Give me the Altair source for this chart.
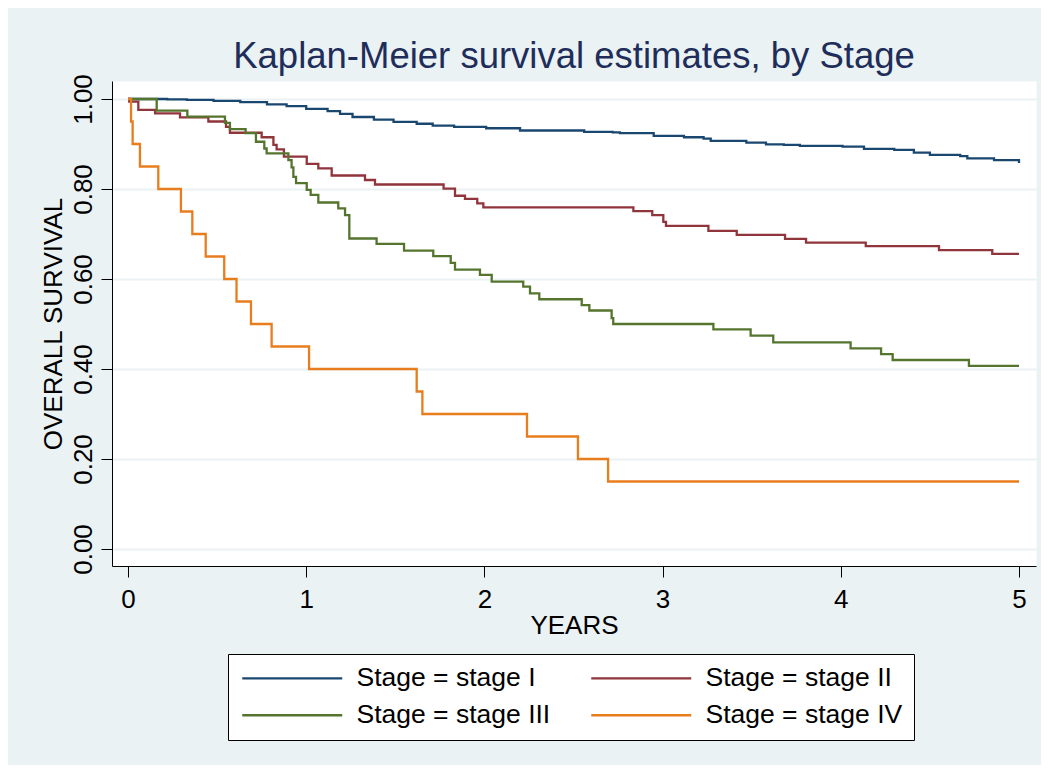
import altair as alt
import pandas as pd

# ---- data (years, survival probability) ----
stages = ["Stage = stage I", "Stage = stage II", "Stage = stage III", "Stage = stage IV"]
colors = ["#1A476F", "#90353B", "#55752F", "#E87D1E"]

stage1_t = [0, 0.22, 0.33, 0.48, 0.63, 0.78, 0.89, 1.00, 1.12, 1.19, 1.26, 1.38, 1.49, 1.62,
            1.71, 1.83, 2.01, 2.20, 2.56, 2.72, 2.76, 2.95, 3.12, 3.23, 3.27, 3.47, 3.58, 3.68,
            3.77, 4.01, 4.13, 4.30, 4.41, 4.50, 4.67, 4.71, 4.86, 5.0]
stage1_s = [1.0, 0.999, 0.998, 0.996, 0.993, 0.988, 0.984, 0.978, 0.973, 0.967, 0.960, 0.954,
            0.949, 0.945, 0.941, 0.938, 0.935, 0.930, 0.927, 0.926, 0.924, 0.918, 0.915, 0.912,
            0.907, 0.903, 0.899, 0.898, 0.896, 0.894, 0.889, 0.887, 0.881, 0.876, 0.873, 0.868,
            0.864, 0.858]

stage2_t = [0, 0.007, 0.058, 0.152, 0.292, 0.451, 0.550, 0.572, 0.750, 0.816, 0.834, 0.875,
            1.003, 1.068, 1.143, 1.330, 1.386, 1.771, 1.835, 1.891, 1.960, 1.994, 2.836, 2.942,
            3.004, 3.019, 3.257, 3.416, 3.687, 3.805, 4.140, 4.551, 4.850, 5.0]
stage2_s = [1.0, 0.994, 0.976, 0.968, 0.959, 0.950, 0.938, 0.925, 0.915, 0.898, 0.888, 0.872,
            0.856, 0.846, 0.830, 0.820, 0.810, 0.801, 0.785, 0.778, 0.768, 0.759, 0.751, 0.742,
            0.727, 0.718, 0.707, 0.698, 0.689, 0.681, 0.673, 0.664, 0.656, 0.656]

stage3_t = [0, 0.161, 0.333, 0.544, 0.572, 0.660, 0.718, 0.765, 0.778, 0.900, 0.918, 0.928,
            0.943, 1.003, 1.025, 1.068, 1.180, 1.218, 1.242, 1.395, 1.549, 1.713, 1.811, 1.835,
            1.975, 2.041, 2.218, 2.256, 2.308, 2.546, 2.589, 2.714, 2.723, 3.285, 3.494, 3.621,
            4.055, 4.226, 4.291, 4.719, 5.0]
stage3_s = [1.0, 0.974, 0.961, 0.947, 0.933, 0.924, 0.905, 0.890, 0.879, 0.864, 0.848, 0.827,
            0.813, 0.798, 0.787, 0.770, 0.757, 0.742, 0.690, 0.678, 0.663, 0.651, 0.636, 0.621,
            0.609, 0.594, 0.583, 0.568, 0.555, 0.542, 0.530, 0.513, 0.500, 0.488, 0.474, 0.459,
            0.446, 0.433, 0.420, 0.407, 0.407]

stage4_t = [0, 0.017, 0.026, 0.067, 0.170, 0.297, 0.361, 0.436, 0.540, 0.609, 0.690, 0.806,
            1.016, 1.620, 1.652, 2.239, 2.525, 2.694, 5.0]
stage4_s = [1.0, 0.95, 0.90, 0.85, 0.80, 0.75, 0.70, 0.65, 0.60, 0.55, 0.50, 0.45, 0.40, 0.35,
            0.30, 0.25, 0.20, 0.15, 0.15]

x_ticks = [0, 1, 2, 3, 4, 5]
y_ticks = [0.0, 0.2, 0.4, 0.6, 0.8, 1.0]

rows = []
for name, ts, ss in zip(stages, [stage1_t, stage2_t, stage3_t, stage4_t],
                        [stage1_s, stage2_s, stage3_s, stage4_s]):
    for i, (t, s) in enumerate(zip(ts, ss)):
        rows.append({"t": t, "s": s, "stage": name, "i": i})
df = pd.DataFrame(rows)

FONT = "Liberation Sans"

chart = alt.Chart(df).mark_line(interpolate="step-after", strokeWidth=2.3).encode(
    x=alt.X("t:Q",
            scale=alt.Scale(domain=[-0.0898, 5.0954], nice=False, zero=False),
            axis=alt.Axis(values=x_ticks, format="d", title="YEARS", grid=False,
                          tickSize=11, tickColor="black", tickWidth=1,
                          domainColor="black", domainWidth=1,
                          labelFontSize=26, labelColor="black", labelPadding=9, labelFont=FONT,
                          titleFontSize=26, titleFontWeight="normal", titleColor="black",
                          titleFont=FONT, titleBaseline="alphabetic", titleY=67)),
    y=alt.Y("s:Q",
            scale=alt.Scale(domain=[-0.0378, 1.04], nice=False, zero=False),
            axis=alt.Axis(values=y_ticks, format=".2f", title="OVERALL SURVIVAL",
                          grid=True, gridColor="#EAF2F3", gridWidth=2,
                          tickSize=11, tickColor="black", tickWidth=1,
                          domainColor="black", domainWidth=1,
                          labelFontSize=26, labelColor="black", labelAngle=270,
                          labelAlign="center", labelBaseline="alphabetic", labelPadding=10,
                          labelFont=FONT,
                          titleFontSize=26, titleFontWeight="normal", titleColor="black",
                          titleFont=FONT, titleAngle=270, titleAlign="center",
                          titleBaseline="alphabetic", titleX=-51, titleY=242.5)),
    color=alt.Color("stage:N",
                    scale=alt.Scale(domain=stages, range=colors),
                    legend=alt.Legend(title=None, orient="none", legendX=116, legendY=573,
                                      direction="horizontal",
                                      columns=2, columnPadding=35, rowPadding=10, padding=11,
                                      symbolType="M-1,0H9", symbolSize=400,
                                      symbolStrokeWidth=2.3, labelOffset=91,
                                      labelFontSize=26.5, labelColor="black", labelFont=FONT,
                                      labelLimit=400, fillColor="white", strokeColor="black")),
    order="i:Q",
).properties(
    width=924,
    height=485,
    autosize=alt.AutoSizeParams(type="none"),
    padding={"left": 104, "top": 73, "right": 5, "bottom": 199},
    title=alt.Title("Kaplan-Meier survival estimates, by Stage", fontSize=36.5,
                    fontWeight="normal", color="#1E2D5A", font=FONT, anchor="middle",
                    frame="group", baseline="alphabetic", offset=13.7, dy=45),
).configure(
    background="#EAF2F3",
    font=FONT,
).configure_view(
    fill="white",
    stroke="transparent",
)

chart.save("out.html", embed_options={"renderer": "svg", "actions": False})
